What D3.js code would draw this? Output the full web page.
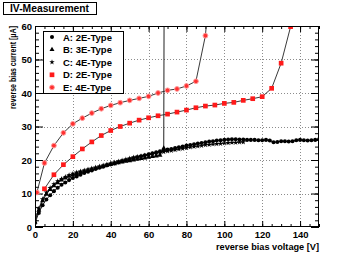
<!DOCTYPE html>
<html>
<head>
<meta charset="utf-8">
<script src="https://cdn.jsdelivr.net/npm/d3@7"></script>
<style>
  body { margin: 0; background: #fff; }
  svg text { font-family: "Liberation Sans", Arial, sans-serif; font-weight: bold; fill: #000; }
</style>
</head>
<body>
<div id="chart"></div>
<script>
// measured series: voltage [V] and current [uA]
var voltA = [0,2,4,6,8,10,12,14,16,18,20,22,24,26,28,30,32,34,36,38,40,42,44,46,48,50,52,54,56,58,60,62,64,66,68,70,72,74,76,78,80,82,84,86,88,90,92,94,96,98,100,102,104,106,108,110,112,114,116,118,120,122,124,126,128,130,132,134,136,138,140,142,144,146,148,150];
var currA = [1.2,4.2,6.5,8.2,9.5,10.7,11.7,12.6,13.3,14.0,14.6,15.1,15.6,16.1,16.5,16.9,17.3,17.7,18.0,18.4,18.7,19.0,19.3,19.6,19.9,20.2,20.5,20.8,21.1,21.4,21.7,22.0,22.3,22.6,22.9,23.1,23.3,23.6,23.8,24.0,24.3,24.5,24.7,24.9,25.1,25.3,25.5,25.6,25.8,25.9,26.0,26.1,26.2,26.2,26.1,26.1,26.0,26.0,26.0,25.9,25.9,26.0,25.8,25.3,25.4,25.6,25.6,25.5,25.6,25.9,26.0,25.9,25.8,25.9,26.0,26.2];

var voltB = [0,2,4,6,8,10,12,14,16,18,20,22,24,26,28,30,32,34,36,38,40,42,44,46,48,50,52,54,56,58,60,62,64,66,68,69];
var currB = [1.5,5.0,7.8,9.8,11.2,12.3,13.2,14.0,14.6,15.1,15.5,15.9,16.3,16.6,16.9,17.2,17.5,17.8,18.1,18.4,18.7,18.9,19.2,19.4,19.6,19.8,20.0,20.2,20.4,20.6,20.8,21.0,21.2,21.4,23.5,250];

var voltC = [0,2,4,6,8,10,12,14,16,18,20,22,24,26,28,30,32,34,36,38,40,42,44,46,48,50,52,54,56,58,60,62,64,66,68,70,72,74,76,78,80,82,84,86,88,90,92,94,96,98,100,102,104,106,108,110];
var currC = [1.8,5.5,8.3,10.3,11.7,12.8,13.7,14.4,15.0,15.5,15.9,16.3,16.6,16.9,17.2,17.5,17.8,18.1,18.4,18.7,19.0,19.3,19.6,19.9,20.2,20.5,20.8,21.0,21.2,21.4,21.5,21.8,22.0,22.2,22.4,22.6,22.8,23.0,23.2,23.4,23.6,23.8,24.0,24.1,24.3,24.5,24.6,24.7,24.8,24.9,25.0,25.1,25.2,25.2,25.3,25.3];

var voltD = [5,10,15,20,25,30,35,40,45,50,55,60,65,70,75,80,85,90,95,100,105,110,115,120,125,130,135,140];
var currD = [11.4,15.6,18.6,21.0,23.3,25.4,27.3,28.8,30.0,31.0,31.9,32.6,33.2,33.7,34.3,34.9,35.6,36.1,36.4,36.9,37.2,37.8,38.3,38.9,41.4,48.9,59.8,76];

var voltE = [1,5,10,15,20,25,30,35,40,45,50,55,60,65,70,75,80,85,90,95];
var currE = [10.3,19.1,24.3,28.1,30.8,32.5,34.0,35.3,36.3,37.1,37.8,38.4,39.0,40.0,40.8,41.2,42.1,43.5,57.1,90];

var seriesNames = ["A: 2E-Type", "B: 3E-Type", "C: 4E-Type", "D: 2E-Type", "E: 4E-Type"];
var xTicks = [0,20,40,60,80,100,120,140];
var yTicks = [0,10,20,30,40,50,60];

var W = 355, H = 255;
var FRAME = {left: 35, right: 319, top: 26, bottom: 227};

var svg = d3.select("#chart").append("svg")
    .attr("width", W)
    .attr("height", H);

var x = d3.scaleLinear().domain([0, 150]).range([FRAME.left, FRAME.right]);
var y = d3.scaleLinear().domain([0, 60]).range([FRAME.bottom, FRAME.top]);

svg.append("clipPath").attr("id", "clip")
  .append("rect")
    .attr("x", FRAME.left).attr("y", FRAME.top)
    .attr("width", FRAME.right - FRAME.left).attr("height", FRAME.bottom - FRAME.top);

// grid
var grid = svg.append("g")
    .attr("stroke", "#8c8c8c")
    .attr("stroke-dasharray", "1,2")
    .attr("stroke-width", 1);
grid.selectAll("line.gx").data(xTicks.slice(1)).enter().append("line")
    .attr("x1", function(d) { return Math.round(x(d)) + 0.5; })
    .attr("x2", function(d) { return Math.round(x(d)) + 0.5; })
    .attr("y1", FRAME.top).attr("y2", FRAME.bottom);
grid.selectAll("line.gy").data(yTicks.slice(1, -1)).enter().append("line")
    .attr("y1", function(d) { return Math.round(y(d)) + 0.5; })
    .attr("y2", function(d) { return Math.round(y(d)) + 0.5; })
    .attr("x1", FRAME.left).attr("x2", FRAME.right);

// axes: ROOT style, ticks inside on all four sides
var xAxisB = d3.axisBottom(x).tickValues(xTicks).tickSize(-6).tickPadding(4).tickFormat(d3.format("d"));
var xAxisBm = d3.axisBottom(x).tickValues(d3.range(0, 151, 5)).tickSize(-3).tickFormat("");
var xAxisT = d3.axisTop(x).tickValues(xTicks).tickSize(-6).tickFormat("");
var xAxisTm = d3.axisTop(x).tickValues(d3.range(0, 151, 5)).tickSize(-3).tickFormat("");
var yAxisL = d3.axisLeft(y).tickValues(yTicks).tickSize(-8).tickPadding(3).tickFormat(d3.format("d"));
var yAxisLm = d3.axisLeft(y).tickValues(d3.range(0, 61, 2)).tickSize(-4).tickFormat("");
var yAxisR = d3.axisRight(y).tickValues(yTicks).tickSize(-8).tickFormat("");
var yAxisRm = d3.axisRight(y).tickValues(d3.range(0, 61, 2)).tickSize(-4).tickFormat("");

function addAxis(ax, tx, ty) {
  var g = svg.append("g").attr("transform", "translate(" + tx + "," + ty + ")").call(ax);
  g.select(".domain").remove();
  g.selectAll(".tick line").attr("stroke", "#000");
  g.selectAll("text").attr("font-size", 9.5).attr("fill", "#000");
  return g;
}
addAxis(xAxisBm, 0, FRAME.bottom);
addAxis(xAxisB, 0, FRAME.bottom);
addAxis(xAxisTm, 0, FRAME.top);
addAxis(xAxisT, 0, FRAME.top);
addAxis(yAxisLm, FRAME.left, 0);
addAxis(yAxisL, FRAME.left, 0);
addAxis(yAxisRm, FRAME.right, 0);
addAxis(yAxisR, FRAME.right, 0);

// curves
var plot = svg.append("g").attr("clip-path", "url(#clip)");

function pairs(vs, cs) {
  return vs.map(function(v, i) { return [v, cs[i]]; });
}
var line = d3.line()
    .x(function(d) { return x(d[0]); })
    .y(function(d) { return y(d[1]); });

function drawLine(data, color) {
  plot.append("path")
      .datum(data)
      .attr("fill", "none")
      .attr("stroke", color)
      .attr("stroke-width", 1)
      .attr("d", line);
}

var dataA = pairs(voltA, currA), dataB = pairs(voltB, currB), dataC = pairs(voltC, currC);
var dataD = pairs(voltD, currD), dataE = pairs(voltE, currE);

drawLine(dataE, "#3a3a3a");
drawLine(dataD, "#3a3a3a");
drawLine(dataC, "#222");
drawLine(dataB, "#222");
drawLine(dataA, "#222");

var sym = {
  A: d3.symbol().type(d3.symbolCircle).size(13),
  B: d3.symbol().type(d3.symbolTriangle).size(11),
  C: d3.symbol().type(d3.symbolStar).size(9),
  D: d3.symbol().type(d3.symbolSquare).size(22),
  E: d3.symbol().type(d3.symbolCircle).size(18)
};

function drawMarks(data, path, fill, stroke) {
  plot.append("g").selectAll("path").data(data).enter().append("path")
      .attr("transform", function(d) { return "translate(" + x(d[0]) + "," + y(d[1]) + ")"; })
      .attr("d", path)
      .attr("fill", fill)
      .attr("stroke", stroke || "none")
      .attr("stroke-width", 1);
}
drawMarks(dataC, sym.C, "#000");
drawMarks(dataB, sym.B, "#000");
drawMarks(dataA, sym.A, "#000");
drawMarks(dataD, sym.D, "#ff1a1a");
drawMarks(dataE, sym.E, "#ff3030", "#ff9a9a");

// frame
svg.append("rect")
    .attr("x", FRAME.left + 0.5).attr("y", FRAME.top + 0.5)
    .attr("width", FRAME.right - FRAME.left - 1).attr("height", FRAME.bottom - FRAME.top - 1)
    .attr("fill", "none").attr("stroke", "#000").attr("stroke-width", 1);

// axis titles
svg.append("text")
    .attr("x", FRAME.right).attr("y", 250)
    .attr("text-anchor", "end").attr("font-size", 9.5)
    .attr("textLength", 103).attr("lengthAdjust", "spacingAndGlyphs")
    .text("reverse bias voltage [V]");
svg.append("text")
    .attr("transform", "translate(16," + FRAME.top + ") rotate(-90)")
    .attr("text-anchor", "end").attr("font-size", 9)
    .attr("textLength", 83).attr("lengthAdjust", "spacingAndGlyphs")
    .text("reverse bias current [\u03bcA]");

// title box
svg.append("rect")
    .attr("x", 3.5).attr("y", 2.5).attr("width", 93).attr("height", 12)
    .attr("fill", "#fff").attr("stroke", "#000");
svg.append("text")
    .attr("x", 49.5).attr("y", 12)
    .attr("text-anchor", "middle").attr("font-size", 10.5)
    .attr("textLength", 79).attr("lengthAdjust", "spacingAndGlyphs")
    .text("IV-Measurement");

// legend
var legend = svg.append("g");
legend.append("rect")
    .attr("x", 43.5).attr("y", 31.5).attr("width", 80).attr("height", 62)
    .attr("fill", "#fff").attr("stroke", "#000");
var legSym = [sym.A, sym.B, sym.C, sym.D, sym.E];
var legFill = ["#000", "#000", "#000", "#ff1a1a", "#ff3030"];
var legStroke = ["none", "none", "none", "none", "#ff9a9a"];
var rows = legend.selectAll("g.row").data(seriesNames).enter().append("g")
    .attr("transform", function(d, i) { return "translate(0," + (37 + i * 12.6) + ")"; });
rows.append("path")
    .attr("transform", "translate(52,0)")
    .attr("d", function(d, i) { return legSym[i](); })
    .attr("fill", function(d, i) { return legFill[i]; })
    .attr("stroke", function(d, i) { return legStroke[i]; });
rows.append("text")
    .attr("x", 63).attr("y", 3.5).attr("font-size", 9.5)
    .text(function(d) { return d; });
</script>
</body>
</html>
